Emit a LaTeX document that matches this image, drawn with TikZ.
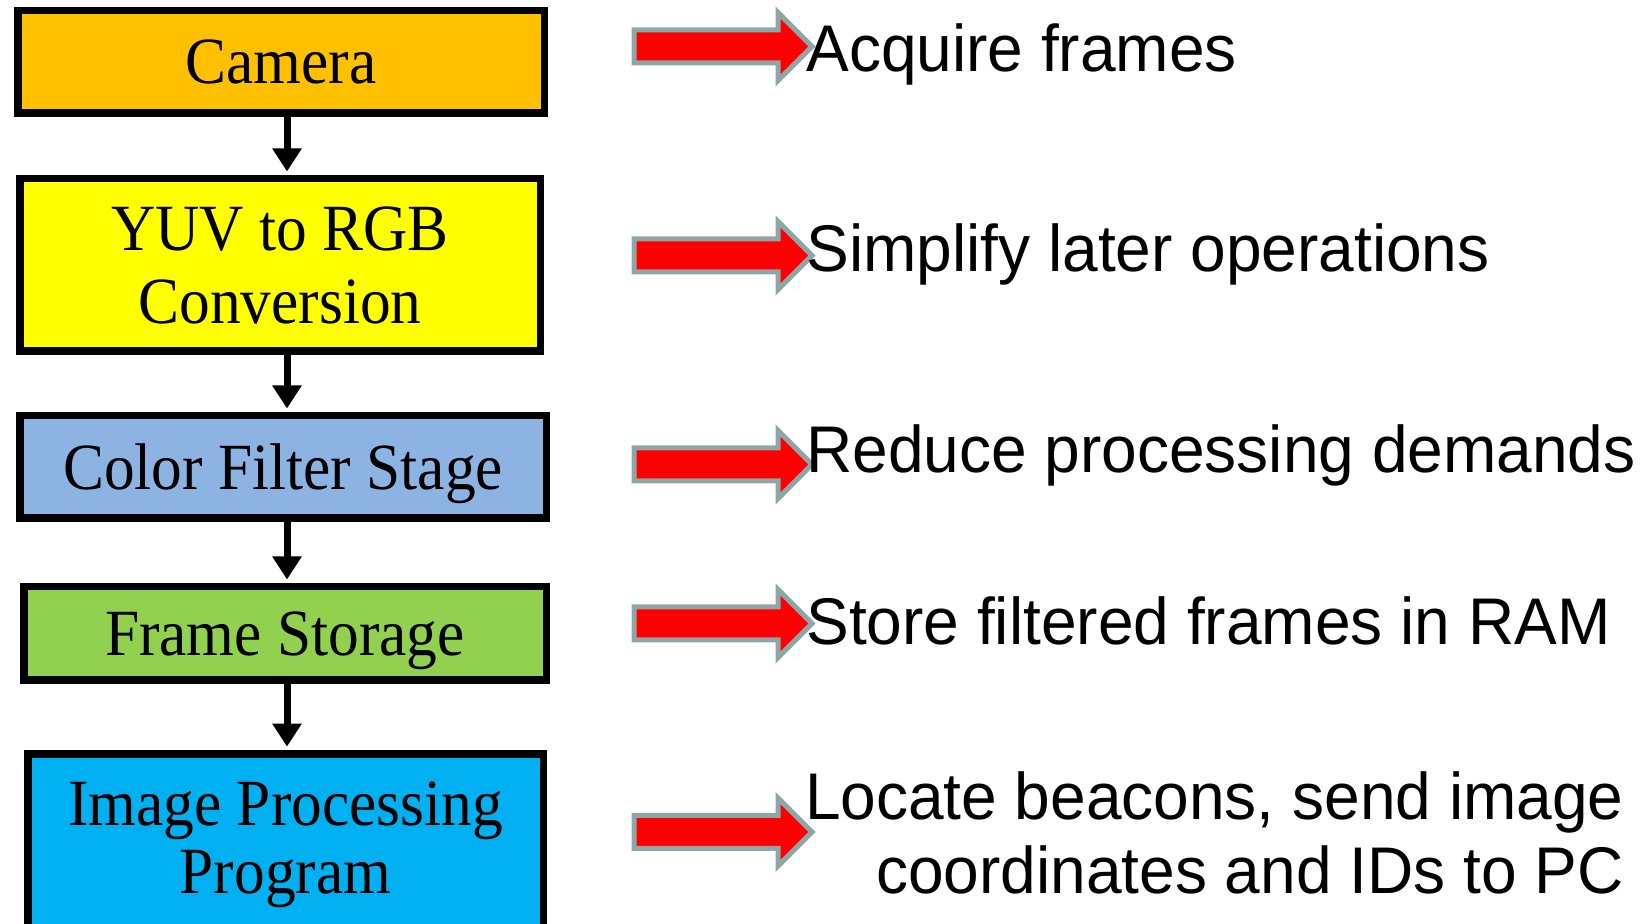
\documentclass[tikz,border=0pt]{standalone}
\usepackage{fontspec}
\setmainfont{Liberation Serif}
\newfontfamily\boxfont[FakeStretch=0.93]{Liberation Serif}
\newfontfamily\notefont[FakeStretch=0.97]{Liberation Sans}
\usetikzlibrary{arrows.meta}

\definecolor{camorange}{RGB}{255,192,0}
\definecolor{yuvyellow}{RGB}{255,255,0}
\definecolor{filterblue}{RGB}{141,179,226}
\definecolor{storegreen}{RGB}{146,208,80}
\definecolor{progcyan}{RGB}{0,176,240}
\definecolor{arrowgray}{RGB}{143,166,166}

\begin{document}
\begin{tikzpicture}[x=1pt,y=1pt,
  box/.style={draw,line width=3.75pt,inner sep=0pt,align=center,
              font=\boxfont\fontsize{33}{36.5}\selectfont},
  flow/.style={line width=3.5pt,-{Triangle[width=14pt,length=11.5pt]},shorten >=1.75pt},
  note/.style={inner sep=0pt,font=\notefont\fontsize{33}{37}\selectfont},
  redarrow/.style={fill=red,draw=arrowgray,line width=2.5pt,line join=miter}]
\useasboundingbox (0,0) rectangle (823,-462);
\clip (0,0) rectangle (823,-462);

% la chaine de traitement
\node[box,fill=camorange,minimum width=263.25pt,minimum height=51.25pt,text depth=0pt]
  (cam) at (140.5,-31) {Camera};
\node[box,fill=yuvyellow,minimum width=260.25pt,minimum height=86.25pt]
  (yuv) at (140,-132.5) {YUV to RGB\\Conversion};
\node[box,fill=filterblue,minimum width=263.25pt,minimum height=51.25pt,text depth=0pt]
  (filt) at (141.5,-233.5) {Color Filter Stage};
\node[box,fill=storegreen,minimum width=261.25pt,minimum height=46.75pt,text depth=0pt]
  (store) at (142.5,-316.75) {Frame Storage};
\node[box,fill=progcyan,minimum width=257.75pt,minimum height=90.5pt]
  (prog) at (142.75,-422.2) {Image Processing\\[-2.5pt]Program};

% les fleches noires
\coordinate (spine) at (143.5,0);
\draw[flow] (cam.south -| spine) -- (yuv.north -| spine);
\draw[flow] (yuv.south -| spine) -- (filt.north -| spine);
\draw[flow] (filt.south -| spine) -- (store.north -| spine);
\draw[flow] (store.south -| spine) -- (prog.north -| spine);

% les grosses fleches rouges
\foreach \ya in {23.25,127.75,232.25,311.75,416}
  \draw[redarrow,shift={(0,-\ya)}] (317,8.25) -- (389,8.25) -- (389,17) -- (406,0)
    -- (389,-17) -- (389,-8.25) -- (317,-8.25) -- cycle;

% les commentaires
\foreach \i/\yb/\txt in {1/36/Acquire frames,2/136/Simplify later operations,
    3/236.5/Reduce processing demands,4/322.5/Store filtered frames in RAM}
  \node[note,anchor=base west] (note\i) at (403,-\yb) {\txt};
\node[note,align=right,anchor=base east] (note5) at (812,-447)
  {Locate beacons, send image\\coordinates and IDs to PC};
\end{tikzpicture}
\end{document}
